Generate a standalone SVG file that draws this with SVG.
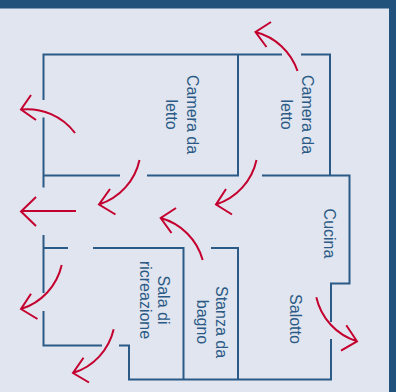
<svg xmlns="http://www.w3.org/2000/svg" width="396" height="392" viewBox="0 0 396 392">
<style>
.w{fill:none;stroke:#2a5a85;stroke-width:2;stroke-linejoin:miter}
.a{fill:none;stroke:#c4002f;stroke-width:2}
text{font-family:"Liberation Sans",Arial,sans-serif;font-size:16px;fill:#2a5a85;text-anchor:middle}
</style>
<rect width="396" height="392" fill="#e1e5ef"/>
<rect width="396" height="8.500" fill="#21527c"/>
<rect x="389" width="7" height="392" fill="#21527c"/>
<g id="walls">
<path class="w" d="M43.500 100V54.500H282M301 54.500H330V175.500M238 54.500V175.500H147M120 175.500H43.500M43.500 117.500V187.500M262 175.500H349.500V283.500H331V322M331 339V379.500H129V345.500H119M102 345.500H43.500V311M43.500 293V235M43.500 248H68M93 248H183.500V379.500M211 248H238V379.500"/>
</g>
<g id="connectors">
<path class="a" d="M75 133A60 60 0 0 0 21 109.500M31 95L21 109.500L36 120"/>
<path class="a" d="M139.500 160A60 60 0 0 1 99 204.500M110 189L99 204.500L115.500 214.500"/>
<path class="a" d="M76 211H21M36 197L21 211.500L36 226"/>
<path class="a" d="M297.500 71A60 60 0 0 0 255.500 32M271 22L255.500 32L266.500 47"/>
<path class="a" d="M256.500 160A60 60 0 0 1 216 204.500M226 189L216 204.500L232 214.500"/>
<path class="a" d="M202.700 260A60 60 0 0 0 160.700 218M176 208L160.700 218L171.500 233"/>
<path class="a" d="M61.700 265A60 60 0 0 1 21 309M31 293.700L21 309L37.500 319"/>
<path class="a" d="M113.700 329.300A60 60 0 0 1 73 373M83.500 357.700L73 373L89 382.500"/>
<path class="a" d="M316.300 297.300A60 60 0 0 0 357 341.300M346.300 325.300L357 341.300L341 350.700"/>
</g>
<g id="camera1"><text transform="translate(186.500 114.500) rotate(90)">Camera da</text><text transform="translate(165.500 114.500) rotate(90)">letto</text></g>
<g id="camera2"><text transform="translate(301.500 114.500) rotate(90)">Camera da</text><text transform="translate(280.500 114.500) rotate(90)">letto</text></g>
<g id="cucina"><text transform="translate(323.500 233.500) rotate(90)">Cucina</text></g>
<g id="salotto"><text transform="translate(289.500 319) rotate(90)">Salotto</text></g>
<g id="bagno"><text transform="translate(216 322) rotate(90)">Stanza da</text><text transform="translate(197 322) rotate(90)">bagno</text></g>
<g id="sala"><text transform="translate(157.500 300) rotate(90)">Sala di</text><text transform="translate(139.500 300) rotate(90)">ricreazione</text></g>
</svg>
